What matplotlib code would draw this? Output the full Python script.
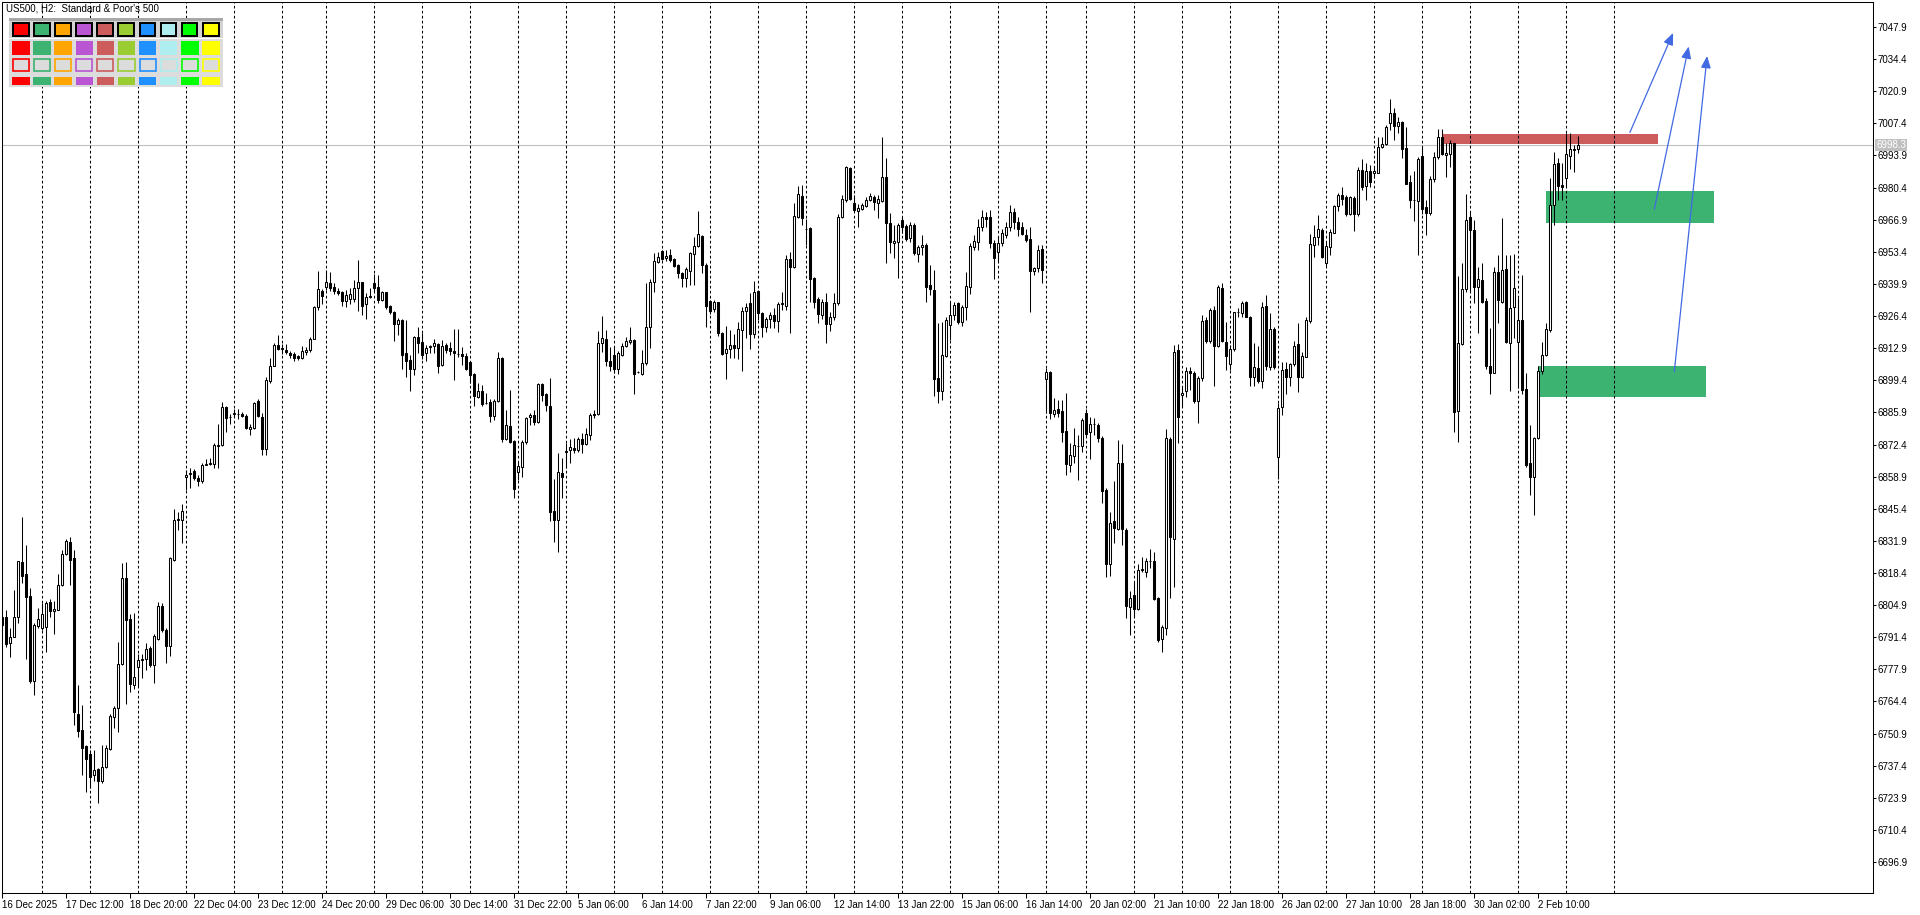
import numpy as np
import pandas as pd
import matplotlib
matplotlib.use("Agg")
from matplotlib import pyplot as plt
from matplotlib import patches

plt.rcParams['font.family'] = ['Liberation Sans', 'DejaVu Sans']

# US500 H2 candles, 16 Dec 04:00 .. 3 Feb 06:00
opens = [
    6800.1, 6800.1, 6789.1, 6791.7, 6800.1, 6823.0, 6817.8, 6808.9, 6773.0, 6796.2,
    6795.2, 6795.5, 6806.2, 6802.4, 6802.8, 6813.2, 6826.2, 6831.4, 6824.5, 6759.3, 6752.4, 6745.5,
    6742.4, 6733.3, 6735.9, 6731.0, 6736.8, 6744.4, 6758.0, 6761.5, 6780.2, 6816.1, 6799.0, 6771.5,
    6779.1, 6782.0, 6782.2, 6786.8, 6779.6, 6790.6, 6804.7, 6794.4, 6787.8, 6823.9, 6840.7, 6840.7,
    6858.6, 6860.2, 6861.2, 6858.2, 6857.1, 6864.0, 6864.1, 6864.4, 6871.9, 6872.4, 6888.1, 6883.9,
    6885.4, 6885.1, 6885.4, 6884.6, 6879.0, 6879.3, 6890.7, 6883.9, 6870.4, 6899.2, 6905.6, 6914.4,
    6912.8, 6912.0, 6910.8, 6910.5, 6909.6, 6908.9, 6911.4, 6912.0, 6916.9, 6930.0, 6937.1,
    6938.8, 6940.2, 6938.8, 6937.0, 6936.4, 6932.9, 6933.7, 6933.7, 6938.4, 6940.6, 6931.4, 6934.3,
    6940.2, 6938.6, 6933.2, 6936.3, 6930.7, 6927.9, 6923.0, 6924.8, 6910.8, 6908.0, 6904.0, 6917.4,
    6915.4, 6910.8, 6913.3, 6913.8, 6914.7, 6905.9, 6914.1, 6913.0, 6911.7, 6910.3, 6910.3, 6909.4,
    6907.1, 6902.1, 6892.5, 6894.9, 6889.8, 6890.2, 6884.6, 6890.5, 6908.7, 6874.6, 6880.2, 6873.9,
    6861.0, 6863.1, 6873.6, 6883.9, 6884.8, 6882.0, 6897.7, 6893.7, 6888.6, 6844.5, 6840.7, 6860.3,
    6869.4, 6869.9, 6870.8, 6869.9, 6874.6, 6872.5, 6876.2, 6885.2, 6885.2, 6915.0, 6916.7, 6907.3,
    6910.1, 6904.2, 6910.1, 6913.8, 6915.4, 6916.4, 6902.8, 6902.1, 6906.5, 6921.7, 6940.9, 6949.3,
    6953.7, 6950.7, 6952.1, 6950.2, 6947.9, 6944.6, 6942.3, 6945.5, 6952.5, 6955.8, 6960.0, 6947.9,
    6932.7, 6929.2, 6932.2, 6919.1, 6910.7, 6912.4, 6914.1, 6912.8, 6920.5, 6928.5, 6931.7, 6918.7,
    6936.9, 6927.5, 6921.7, 6925.2, 6926.8, 6924.5, 6931.3, 6930.8, 6950.2, 6947.2, 6968.2, 6977.0,
    6963.1, 6963.5, 6942.3, 6933.6, 6926.8, 6932.4, 6923.1, 6926.1, 6931.7, 6967.9, 6975.2, 6988.5,
    6973.8, 6970.7, 6971.3, 6972.7, 6975.2, 6976.3, 6973.8, 6974.9, 6984.7, 6965.4, 6957.2, 6957.7,
    6966.8, 6964.2, 6959.1, 6964.7, 6952.5, 6955.3, 6956.3, 6939.5, 6937.3, 6900.2, 6895.0, 6909.6,
    6922.6, 6926.8, 6931.7, 6924.0, 6930.3, 6938.8, 6955.6, 6957.7, 6964.0, 6968.0, 6968.0, 6957.0,
    6953.5, 6957.0, 6960.5, 6964.0, 6970.0, 6966.0, 6964.0, 6960.5, 6958.7, 6945.5, 6946.5, 6954.6,
    6899.8, 6902.8, 6885.1, 6887.2, 6886.5, 6878.1, 6863.8, 6867.6, 6871.8, 6871.8,
    6885.5, 6877.6, 6880.9, 6880.5, 6875.3, 6853.3, 6822.1, 6840.3, 6836.8, 6864.5, 6836.5, 6804.3,
    6809.2, 6803.3, 6819.5, 6819.0, 6823.5, 6823.5, 6807.8, 6790.6, 6795.2, 6874.6, 6832.6, 6912.2,
    6893.3, 6894.7, 6903.3, 6902.4, 6890.9, 6900.3, 6924.8, 6915.9, 6929.0, 6913.8, 6938.1, 6915.7,
    6906.2, 6912.4, 6928.0, 6927.6, 6932.1, 6926.2, 6900.7, 6904.7, 6898.9, 6930.7, 6904.9, 6921.0,
    6867.0, 6888.3, 6904.0, 6900.6, 6906.2, 6914.6, 6900.9, 6909.3, 6924.4, 6956.3, 6959.5, 6962.6,
    6948.8, 6955.3, 6961.4, 6972.6, 6977.3, 6976.3, 6969.3, 6975.9, 6969.3, 6987.8, 6980.9, 6987.4,
    6986.4, 6986.7, 6997.3, 6998.6, 7007.7, 7011.6, 7006.4, 7007.8, 6996.9, 6982.6, 6975.2, 6974.9,
    6993.7, 6972.4, 6969.9, 6983.8, 6993.1, 7001.5, 6994.1, 6994.5, 6999.0, 6886.6, 6914.5, 6937.6,
    6968.2, 6962.6, 6938.7, 6941.5, 6932.9, 6905.4, 6902.6, 6945.0, 6932.4, 6946.2, 6915.2, 6930.0,
    6915.3, 6924.7, 6895.6, 6864.5, 6858.9, 6875.0, 6903.4, 6910.0, 6920.5, 6973.1, 6990.6, 6981.5,
    6984.3, 6993.7, 6996.2, 6996.8,
]
highs = [
    6801.3, 6802.8, 6795.2, 6811.2, 6823.5, 6841.8, 6830.0, 6812.0, 6797.5, 6803.6,
    6805.9, 6806.6, 6807.4, 6806.6, 6818.1, 6828.1, 6832.6, 6833.4, 6828.1, 6771.5, 6763.1, 6746.3,
    6744.0, 6744.0, 6736.3, 6746.0, 6746.3, 6759.3, 6762.3, 6789.4, 6822.4, 6823.2, 6801.3, 6801.6,
    6784.2, 6784.5, 6788.8, 6787.8, 6792.9, 6806.2, 6805.6, 6795.2, 6825.0, 6845.3, 6844.1, 6847.2,
    6861.7, 6862.5, 6862.2, 6859.4, 6864.8, 6866.3, 6866.7, 6873.2, 6881.1, 6890.3, 6888.8, 6885.4,
    6887.2, 6887.5, 6886.2, 6885.4, 6881.1, 6890.3, 6891.5, 6885.7, 6900.7, 6908.6, 6915.2, 6918.3,
    6914.7, 6914.7, 6911.7, 6911.4, 6910.2, 6913.7, 6913.2, 6917.8, 6930.5, 6945.3, 6937.7,
    6945.8, 6944.8, 6940.2, 6938.1, 6937.0, 6937.4, 6938.1, 6941.6, 6950.0, 6940.9, 6936.0, 6938.1,
    6944.1, 6943.7, 6937.0, 6936.7, 6931.1, 6928.7, 6925.5, 6925.1, 6924.8, 6910.1, 6918.1, 6921.6,
    6919.2, 6914.3, 6914.3, 6916.8, 6915.0, 6916.4, 6915.0, 6915.7, 6920.9, 6920.9, 6913.6, 6911.0,
    6907.7, 6902.6, 6898.4, 6897.5, 6894.0, 6891.6, 6891.6, 6911.2, 6909.1, 6886.9, 6895.4, 6874.3,
    6865.2, 6874.3, 6883.9, 6885.6, 6886.9, 6898.4, 6898.2, 6894.2, 6900.3, 6857.8, 6868.7, 6866.6,
    6872.9, 6874.6, 6875.0, 6875.5, 6877.1, 6879.2, 6885.8, 6886.9, 6920.3, 6926.5, 6920.6, 6913.6,
    6913.6, 6911.9, 6915.0, 6917.5, 6921.7, 6916.7, 6903.5, 6912.0, 6940.2, 6941.8, 6952.8, 6953.5,
    6954.1, 6954.1, 6954.4, 6950.7, 6948.3, 6945.1, 6947.2, 6953.5, 6959.8, 6970.6, 6960.5, 6948.6,
    6933.1, 6933.1, 6932.4, 6919.8, 6922.2, 6920.5, 6918.8, 6924.0, 6930.3, 6931.7, 6935.9, 6941.3,
    6937.4, 6928.2, 6926.1, 6928.2, 6929.6, 6932.4, 6936.6, 6952.1, 6953.5, 6973.8, 6981.1, 6981.5,
    6967.0, 6964.0, 6943.0, 6934.5, 6933.4, 6935.9, 6928.2, 6935.9, 6969.2, 6977.3, 6989.5, 6989.2,
    6977.3, 6973.5, 6973.8, 6976.6, 6978.0, 6977.3, 6977.3, 7001.5, 6992.7, 6969.9, 6964.7, 6965.4,
    6967.9, 6965.1, 6966.1, 6965.4, 6956.3, 6960.5, 6957.0, 6947.9, 6945.8, 6923.3, 6924.0, 6926.1,
    6932.4, 6932.4, 6932.4, 6931.0, 6945.1, 6957.0, 6960.5, 6967.0, 6971.0, 6970.0, 6971.0, 6958.4,
    6959.8, 6963.0, 6966.0, 6973.0, 6972.0, 6968.0, 6966.0, 6963.0, 6964.0, 6946.9, 6956.3, 6956.3,
    6904.5, 6903.5, 6892.1, 6891.1, 6891.1, 6894.0, 6872.9, 6879.2, 6876.4, 6883.4,
    6887.2, 6884.1, 6883.7, 6881.6, 6876.0, 6854.0, 6844.2, 6857.1, 6874.1, 6872.5, 6837.2, 6810.9,
    6814.8, 6822.1, 6825.3, 6824.6, 6828.4, 6827.4, 6808.5, 6796.6, 6878.8, 6875.7, 6914.3, 6914.5,
    6896.8, 6904.9, 6904.9, 6903.1, 6901.0, 6926.9, 6925.9, 6929.7, 6930.7, 6939.5, 6940.2, 6924.1,
    6914.3, 6928.3, 6929.7, 6932.8, 6932.8, 6926.5, 6915.0, 6913.8, 6932.5, 6935.3, 6927.6, 6922.0,
    6889.7, 6907.2, 6907.2, 6906.8, 6916.0, 6923.6, 6911.4, 6926.1, 6960.9, 6964.7, 6968.9, 6963.5,
    6957.7, 6962.8, 6973.1, 6978.0, 6980.8, 6977.3, 6976.8, 6976.8, 6988.9, 6992.3, 6990.6, 6989.9,
    6988.9, 7001.8, 7001.8, 7006.7, 7017.5, 7013.7, 7009.9, 7008.5, 7005.7, 6985.7, 6987.4, 6993.4,
    6997.9, 6975.2, 6985.3, 6995.5, 7004.9, 7004.9, 6999.0, 7000.4, 6999.3, 6943.2, 6948.8, 6977.7,
    6970.3, 6966.8, 6947.1, 6948.8, 6933.8, 6921.2, 6946.9, 6952.0, 6967.5, 6952.0, 6952.0, 6952.5,
    6933.8, 6943.6, 6902.3, 6880.6, 6875.7, 6905.4, 6915.3, 6923.3, 6984.3, 6995.5, 6992.7, 6990.9,
    7003.2, 7003.2, 6998.3, 7002.1,
]
lows = [
    6795.9, 6787.5, 6783.0, 6791.4, 6797.5, 6814.3, 6782.2, 6772.2, 6767.3, 6795.2,
    6794.4, 6785.2, 6799.8, 6792.9, 6802.8, 6812.8, 6825.8, 6813.2, 6754.7, 6749.3, 6733.7, 6726.4,
    6727.9, 6731.0, 6721.8, 6730.2, 6736.3, 6744.0, 6753.1, 6751.6, 6779.9, 6763.4, 6768.4, 6769.5,
    6770.7, 6774.1, 6777.6, 6779.1, 6772.2, 6790.3, 6793.7, 6780.6, 6783.7, 6823.5, 6836.5, 6831.1,
    6853.3, 6854.1, 6857.6, 6854.8, 6856.3, 6863.7, 6863.7, 6862.5, 6862.5, 6871.9, 6877.7, 6881.1,
    6883.9, 6883.0, 6883.9, 6879.0, 6876.5, 6879.0, 6883.9, 6867.8, 6867.8, 6898.4, 6905.3, 6912.0,
    6910.6, 6910.5, 6908.9, 6907.4, 6907.9, 6908.3, 6910.2, 6911.1, 6916.6, 6929.0, 6931.6,
    6937.4, 6937.1, 6935.7, 6935.1, 6930.8, 6930.0, 6931.5, 6932.5, 6928.7, 6926.9, 6925.2, 6933.9,
    6936.7, 6931.8, 6932.8, 6929.4, 6927.3, 6916.0, 6918.5, 6904.2, 6900.9, 6895.1, 6901.7, 6910.8,
    6908.2, 6907.7, 6911.0, 6910.8, 6902.6, 6905.4, 6910.8, 6910.1, 6899.6, 6909.1, 6905.9, 6903.8,
    6898.4, 6888.4, 6891.9, 6888.4, 6889.3, 6882.0, 6882.5, 6890.2, 6873.4, 6874.3, 6872.9, 6850.1,
    6857.5, 6858.6, 6872.7, 6880.4, 6880.6, 6881.6, 6890.7, 6886.3, 6840.4, 6831.6, 6827.1, 6849.8,
    6862.4, 6864.8, 6868.7, 6869.4, 6868.7, 6872.3, 6874.3, 6883.4, 6884.8, 6911.5, 6905.2, 6903.1,
    6902.4, 6902.1, 6909.4, 6913.3, 6914.6, 6893.7, 6902.4, 6901.6, 6906.0, 6913.1, 6936.6, 6948.6,
    6950.0, 6949.7, 6949.3, 6947.2, 6942.3, 6938.8, 6938.8, 6939.5, 6939.5, 6955.6, 6944.6, 6921.9,
    6927.3, 6928.2, 6918.0, 6910.0, 6899.8, 6908.6, 6908.6, 6908.2, 6903.4, 6917.0, 6912.4, 6917.0,
    6924.7, 6917.7, 6919.8, 6921.5, 6921.2, 6919.8, 6928.9, 6928.9, 6919.4, 6946.5, 6967.5, 6964.7,
    6956.3, 6932.2, 6929.6, 6923.3, 6925.0, 6915.2, 6920.3, 6924.7, 6931.0, 6967.5, 6974.5, 6975.2,
    6970.7, 6964.0, 6971.0, 6972.1, 6974.9, 6971.0, 6967.7, 6974.5, 6948.8, 6953.0, 6950.7, 6942.3,
    6961.2, 6958.1, 6957.7, 6952.1, 6949.3, 6952.1, 6932.4, 6935.2, 6892.8, 6889.7, 6891.1, 6909.3,
    6916.3, 6924.7, 6923.1, 6922.2, 6924.7, 6935.7, 6954.2, 6954.2, 6962.0, 6964.0, 6954.9, 6941.9,
    6949.3, 6955.9, 6959.1, 6962.0, 6963.0, 6960.0, 6960.5, 6957.7, 6928.0, 6943.7, 6945.1, 6940.5,
    6885.5, 6883.2, 6884.1, 6884.1, 6873.6, 6859.6, 6860.7, 6864.5, 6857.5, 6869.4,
    6875.7, 6866.2, 6876.4, 6873.6, 6847.7, 6816.9, 6817.2, 6830.9, 6836.5, 6830.2, 6799.4, 6792.4,
    6800.1, 6802.9, 6819.0, 6816.9, 6820.4, 6807.1, 6789.6, 6785.4, 6792.4, 6807.8, 6812.7, 6872.9,
    6888.3, 6892.3, 6895.4, 6889.7, 6881.4, 6898.9, 6915.2, 6915.0, 6897.2, 6913.6, 6915.7, 6903.8,
    6903.8, 6911.9, 6925.9, 6925.9, 6925.9, 6896.8, 6896.8, 6898.2, 6896.1, 6903.8, 6903.8, 6904.0,
    6857.7, 6884.8, 6893.6, 6897.0, 6905.4, 6894.6, 6900.2, 6909.0, 6923.6, 6951.4, 6956.3, 6950.6,
    6947.1, 6952.1, 6961.2, 6970.7, 6973.1, 6968.4, 6968.9, 6962.3, 6968.4, 6979.4, 6975.2, 6980.8,
    6984.3, 6986.4, 6996.9, 6998.3, 7004.6, 7000.4, 7003.2, 6992.7, 6981.9, 6971.7, 6966.5, 6952.1,
    6969.3, 6960.5, 6968.9, 6982.9, 6992.3, 6994.1, 6985.0, 6989.2, 6877.8, 6873.6, 6914.2, 6936.6,
    6936.6, 6931.7, 6919.1, 6932.0, 6904.0, 6893.6, 6902.3, 6923.3, 6931.7, 6914.9, 6895.0, 6917.0,
    6896.0, 6893.6, 6863.1, 6851.2, 6842.8, 6874.6, 6902.0, 6909.6, 6919.8, 6964.7, 6975.2, 6975.2,
    6980.8, 6988.1, 6987.1, 6994.8,
]
closes = [
    6796.7, 6788.6, 6791.7, 6800.1, 6823.5, 6817.3, 6808.2, 6773.0, 6796.7, 6799.0,
    6801.3, 6805.9, 6802.4, 6803.1, 6813.2, 6826.2, 6831.9, 6823.9, 6760.0, 6752.1, 6744.7, 6740.4,
    6732.8, 6735.6, 6731.0, 6736.8, 6744.7, 6758.5, 6761.5, 6780.2, 6816.1, 6798.5, 6771.8, 6774.5,
    6781.7, 6782.2, 6786.3, 6779.6, 6791.8, 6804.7, 6794.4, 6787.8, 6824.5, 6840.7, 6840.9, 6844.4,
    6859.7, 6860.6, 6858.2, 6857.0, 6864.0, 6864.4, 6864.6, 6872.4, 6872.4, 6888.1, 6883.6, 6883.9,
    6885.4, 6885.2, 6884.6, 6879.3, 6879.6, 6889.7, 6884.6, 6870.4, 6899.5, 6905.3, 6914.1, 6912.6,
    6912.7, 6911.1, 6910.2, 6908.9, 6908.6, 6911.7, 6912.0, 6916.7, 6930.0, 6937.7, 6934.9,
    6940.6, 6938.4, 6937.1, 6936.0, 6932.9, 6935.3, 6935.7, 6938.1, 6940.6, 6930.8, 6934.3, 6934.9,
    6938.0, 6933.2, 6936.3, 6930.0, 6927.9, 6923.1, 6924.8, 6910.1, 6907.3, 6904.2, 6917.5, 6915.2,
    6910.1, 6913.1, 6913.8, 6915.0, 6905.4, 6913.8, 6912.2, 6911.9, 6910.8, 6910.3, 6909.4, 6904.2,
    6901.7, 6893.0, 6894.9, 6889.5, 6889.8, 6884.6, 6890.7, 6908.7, 6874.8, 6880.6, 6873.4, 6853.6,
    6863.4, 6873.6, 6883.4, 6885.0, 6882.0, 6897.7, 6893.3, 6889.1, 6843.9, 6840.7, 6860.8, 6858.9,
    6869.6, 6871.3, 6869.9, 6874.6, 6872.5, 6876.7, 6884.8, 6884.8, 6915.0, 6917.1, 6907.3, 6905.4,
    6904.2, 6910.8, 6913.8, 6916.1, 6916.4, 6902.1, 6902.8, 6906.5, 6921.7, 6940.6, 6949.5, 6951.1,
    6950.2, 6951.6, 6950.0, 6947.6, 6944.4, 6942.3, 6946.0, 6952.8, 6955.8, 6960.7, 6947.9, 6930.8,
    6928.7, 6932.2, 6919.1, 6910.3, 6912.4, 6914.1, 6913.1, 6921.0, 6928.5, 6930.1, 6918.7, 6936.4,
    6927.8, 6921.7, 6925.0, 6926.8, 6924.3, 6931.5, 6931.7, 6950.2, 6947.2, 6968.6, 6977.6, 6967.5,
    6963.1, 6942.0, 6932.2, 6927.3, 6932.4, 6923.1, 6926.1, 6932.0, 6967.9, 6975.5, 6988.9, 6975.6,
    6971.0, 6971.7, 6973.1, 6975.2, 6976.9, 6974.2, 6975.5, 6985.0, 6965.6, 6957.7, 6958.1, 6964.7,
    6963.7, 6958.6, 6964.5, 6952.8, 6955.3, 6956.3, 6938.5, 6937.7, 6899.8, 6895.0, 6910.0, 6924.7,
    6926.8, 6931.0, 6923.8, 6930.1, 6939.0, 6955.9, 6958.0, 6964.0, 6968.0, 6967.0, 6957.0, 6950.7,
    6957.0, 6961.2, 6964.0, 6970.0, 6966.0, 6963.0, 6961.0, 6958.4, 6945.5, 6946.5, 6954.2, 6945.8,
    6902.8, 6885.5, 6887.0, 6885.8, 6877.6, 6864.1, 6867.8, 6872.0, 6871.8, 6882.5,
    6876.9, 6880.9, 6880.9, 6875.0, 6852.9, 6822.1, 6839.6, 6837.2, 6864.5, 6836.9, 6804.6, 6808.1,
    6803.2, 6819.7, 6820.0, 6823.6, 6823.5, 6807.4, 6790.3, 6795.6, 6875.0, 6833.4, 6911.5, 6884.1,
    6894.0, 6903.3, 6902.4, 6890.9, 6900.5, 6924.4, 6915.9, 6929.0, 6913.8, 6938.5, 6916.0, 6909.4,
    6912.4, 6928.0, 6928.3, 6931.8, 6926.2, 6900.7, 6904.9, 6898.9, 6930.1, 6905.2, 6921.0, 6904.9,
    6887.6, 6903.7, 6900.9, 6906.2, 6913.8, 6900.9, 6909.6, 6924.7, 6956.7, 6959.8, 6962.8, 6951.4,
    6955.8, 6961.9, 6972.6, 6977.3, 6975.4, 6969.3, 6976.3, 6969.3, 6987.8, 6980.8, 6987.4, 6982.9,
    6987.4, 6997.3, 6998.6, 7005.7, 7011.6, 7006.4, 7007.8, 6996.6, 6981.9, 6975.2, 6975.2, 6992.4,
    6971.3, 6969.9, 6983.8, 6993.1, 7001.5, 6994.5, 6995.1, 6999.0, 6886.2, 6914.9, 6937.6, 6966.8,
    6962.6, 6938.5, 6941.8, 6932.4, 6905.4, 6902.6, 6945.0, 6933.1, 6945.7, 6915.6, 6929.6, 6938.0,
    6924.7, 6895.3, 6863.8, 6858.6, 6875.0, 6903.4, 6910.0, 6920.8, 6973.1, 6990.3, 6981.0, 6980.8,
    6994.5, 6996.5, 6996.8, 6998.3,
]

# bars per trading day, 16 Dec .. 3 Feb (day separators at each day start)
day_bars = [10, 12, 12, 12, 12, 12, 11, 12, 12, 12, 12, 12, 12, 12, 12, 12, 12,
            12, 12, 12, 12, 12, 10, 12, 12, 12, 12, 12, 12, 12, 12, 12, 12, 12]

# time axis labels, one every 16 bars
time_labels = ['16 Dec 2025', '17 Dec 12:00', '18 Dec 20:00', '22 Dec 04:00', '23 Dec 12:00',
               '24 Dec 20:00', '29 Dec 06:00', '30 Dec 14:00', '31 Dec 22:00', '5 Jan 06:00',
               '6 Jan 14:00', '7 Jan 22:00', '9 Jan 06:00', '12 Jan 14:00', '13 Jan 22:00',
               '15 Jan 06:00', '16 Jan 14:00', '20 Jan 02:00', '21 Jan 10:00', '22 Jan 18:00',
               '26 Jan 02:00', '27 Jan 10:00', '28 Jan 18:00', '30 Jan 02:00', '2 Feb 10:00']
label_every = 16

price_ticks = [7047.9, 7034.4, 7020.9, 7007.4, 6993.9, 6980.4, 6966.9, 6953.4, 6939.9,
               6926.4, 6912.9, 6899.4, 6885.9, 6872.4, 6858.9, 6845.4, 6831.9, 6818.4,
               6804.9, 6791.4, 6777.9, 6764.4, 6750.9, 6737.4, 6723.9, 6710.4, 6696.9]
last_price = 6998.3

# zones: (first bar, last bar, low, high)
red_zone = (360, 414, 6998.8, 7002.9)
green_zones = [(386, 428, 6965.6, 6979.0), (384, 426, 6892.5, 6905.5)]

# projection arrows: (bar, price) start -> tip
arrows = [((406.9, 7003.6), (417.7, 7045.4)),
          ((413.0, 6971.3), (421.6, 7039.7)),
          ((418.0, 6903.0), (426.2, 7035.7))]

panel_colors = ['#FF0000', '#3CB371', '#FFA500', '#BA55D3', '#CD5C5C',
                '#9ACD32', '#1E90FF', '#AFEEEE', '#00FF00', '#FFFF00']

bars = pd.DataFrame({'open': opens, 'high': highs, 'low': lows, 'close': closes})
bars['x'] = np.arange(len(bars))

fig = plt.figure(figsize=(19.2, 9.15), dpi=100)
ax = fig.add_axes([2 / 1920, 22 / 915, 1870.7 / 1920, 891 / 915])
ax.set_xlim(-0.075, 467.6)
ax.set_ylim(6683.9, 7058.4)

# zones in background
ax.add_patch(patches.Rectangle((red_zone[0], red_zone[2]), red_zone[1] - red_zone[0],
                               red_zone[3] - red_zone[2], facecolor='#CD5C5C',
                               edgecolor='none', zorder=1))
for z in green_zones:
    ax.add_patch(patches.Rectangle((z[0], z[2]), z[1] - z[0], z[3] - z[2],
                                   facecolor='#3CB371', edgecolor='none', zorder=1))

# day separators
for s in np.cumsum(day_bars):
    ax.axvline(s, color='black', linewidth=0.75, linestyle=(0, (2.6, 2.2)), zorder=2)

ax.axhline(last_price, color='#C0C0C0', linewidth=0.8, zorder=1.5)

# candles
up = bars['close'] >= bars['open']
ax.vlines(bars['x'], bars['low'], bars['high'], color='black', linewidth=0.75, zorder=3)
body_low = bars[['open', 'close']].min(axis=1)
body_h = (bars['close'] - bars['open']).abs().clip(lower=0.05)
ax.bar(bars['x'], body_h, bottom=body_low, width=0.5,
       color=np.where(up, 'white', 'black'), edgecolor='black', linewidth=0.75, zorder=4)

for start, tip in arrows:
    ax.annotate('', xy=tip, xytext=start,
                arrowprops=dict(arrowstyle='-|>,head_length=0.6,head_width=0.25',
                                color='#4169E1', lw=0.9, mutation_scale=12,
                                shrinkA=0, shrinkB=0), zorder=5)

# axes, ticks
for sp in ax.spines.values():
    sp.set_linewidth(0.75)
ax.yaxis.tick_right()
ax.set_yticks(price_ticks)
ax.set_yticklabels(['%.1f' % v for v in price_ticks])
ax.tick_params(axis='y', length=2.5, width=0.75, pad=1.2, labelsize=7)
ax.set_xticks(np.arange(len(time_labels)) * label_every)
ax.set_xticklabels(time_labels, ha='left')
ax.tick_params(axis='x', length=3.5, width=0.75, pad=1.5, labelsize=7)

ax.annotate('%.1f' % last_price, xy=(1, last_price), xycoords=('axes fraction', 'data'),
            xytext=(2.6, 0), textcoords='offset points', va='center', ha='left',
            fontsize=7, color='white', annotation_clip=False, zorder=6,
            bbox=dict(boxstyle='square,pad=0.12', fc='#C0C0C0', ec='none'))

# overlay in pixel coords for the title and the colour panel
ov = fig.add_axes([0, 0, 1, 1])
ov.set_xlim(0, 1920)
ov.set_ylim(915, 0)
ov.axis('off')
ov.patch.set_alpha(0)

ov.text(6.5, 8.5, "US500, H2:  Standard & Poor's 500", fontsize=7, va='center', ha='left')

ov.add_patch(patches.Rectangle((9.3, 18.3), 213.4, 69, facecolor='#DCDCDC', edgecolor='none'))
ov.add_patch(patches.Rectangle((9.3, 18.3), 213.4, 2.3, facecolor='#A8A8A8', edgecolor='none'))
ov.add_patch(patches.Rectangle((9.3, 20.6), 213.4, 17.2, facecolor='#D4D4D4', edgecolor='none'))
ov.add_patch(patches.Rectangle((9.3, 37.8), 213.4, 1.6, facecolor='white', edgecolor='none'))
for i, c in enumerate(panel_colors):
    xl = 12.3 + 21.07 * i
    ov.add_patch(patches.Rectangle((xl + 0.8, 23.0), 15.8, 12.6, facecolor=c,
                                   edgecolor='black', linewidth=1.4))
    ov.add_patch(patches.Rectangle((xl, 40.7), 17.7, 14.3, facecolor=c, edgecolor='none'))
    ov.add_patch(patches.Rectangle((xl + 0.8, 59.0), 16.1, 12.2, facecolor='#DCDCDC',
                                   edgecolor=c, linewidth=1.2))
    ov.add_patch(patches.Rectangle((xl, 76.7), 17.7, 8.3, facecolor=c, edgecolor='none'))

fig.savefig('out.png', dpi=100)
plt.close(fig)
